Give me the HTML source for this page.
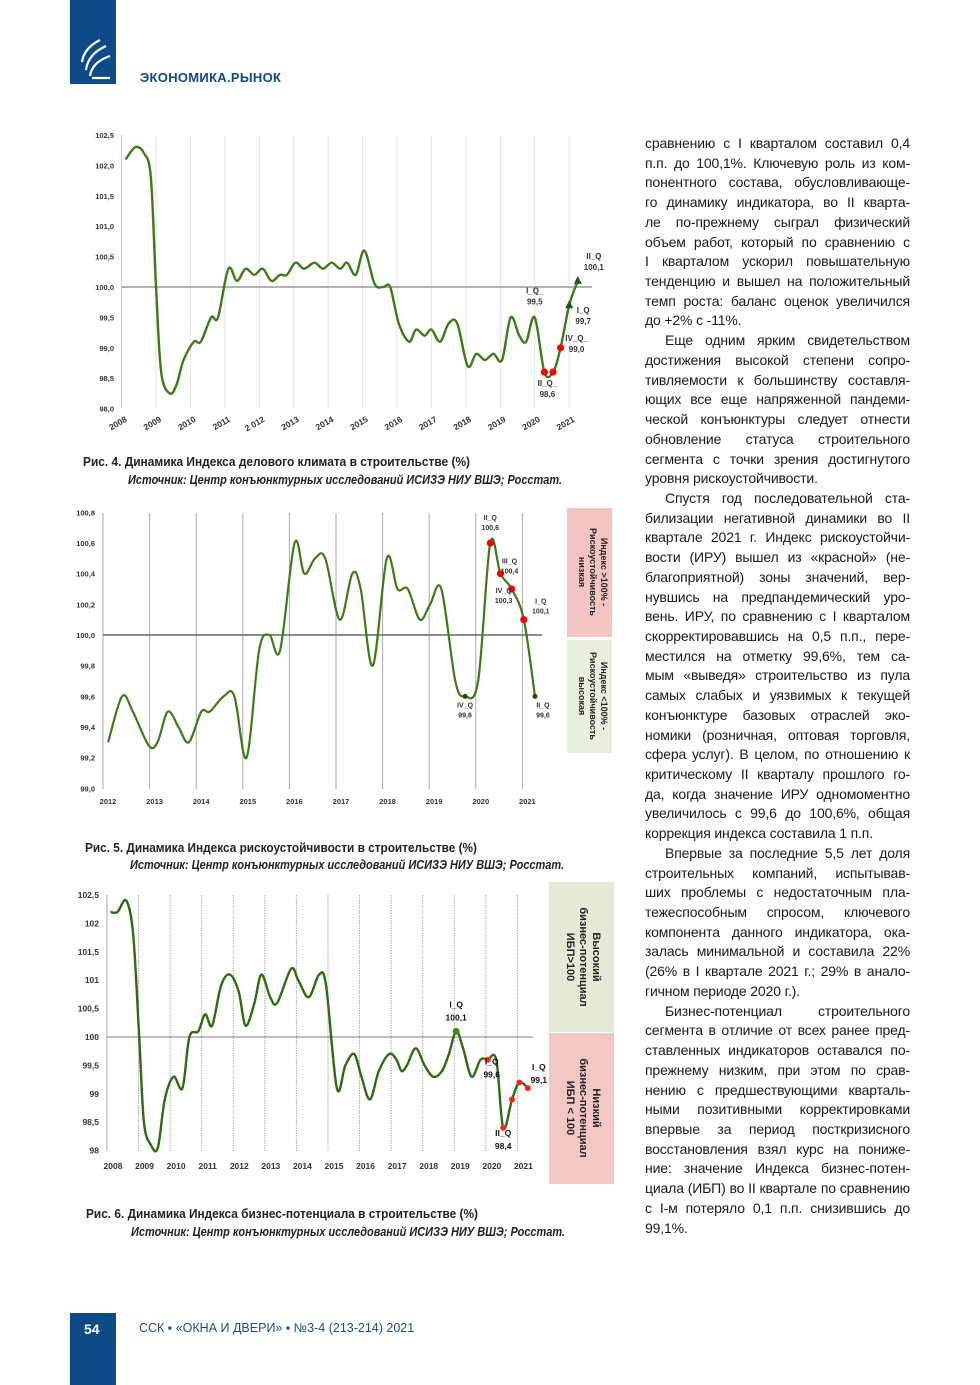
<!DOCTYPE html>
<html><head><meta charset="utf-8">
<style>
html,body{margin:0;padding:0;background:#fff;}
body{width:980px;height:1385px;position:relative;overflow:hidden;font-family:"Liberation Sans",sans-serif;}
#col{position:absolute;left:645px;top:134px;width:265px;font-size:14px;line-height:19.73px;color:#1a1a1a;letter-spacing:-0.15px;}
#col div{text-align:justify;text-align-last:justify;white-space:nowrap;height:19.73px;}
#col div.l{text-align-last:left;}
#col div.i{text-indent:20px;}
svg text{font-family:"Liberation Sans",sans-serif;}
</style></head><body>
<div style="position:absolute;left:70px;top:0;width:46px;height:84px;background:#0d4a86;">
<svg width="46" height="84"><g fill="none" stroke="#fff" stroke-width="2.2"><path d="M12 62 Q14 48 30 40"/><path d="M16 70 Q18 54 36 46"/><path d="M20 76 Q22 62 40 56"/><path d="M22 78 L40 78"/></g></svg>
</div>
<div style="position:absolute;left:140px;top:70px;font-size:13px;font-weight:bold;color:#0d4a86;letter-spacing:0.3px;">ЭКОНОМИКА.РЫНОК</div>

<svg id="charts" width="980" height="1385" style="position:absolute;left:0;top:0"></svg>

<div id="col">
<div>сравнению с I кварталом составил 0,4</div>
<div>п.п. до 100,1%. Ключевую роль из ком-</div>
<div>понентного состава, обусловливающе-</div>
<div>го динамику индикатора, во II кварта-</div>
<div>ле по-прежнему сыграл физический</div>
<div>объем работ, который по сравнению с</div>
<div>I кварталом ускорил повышательную</div>
<div>тенденцию и вышел на положительный</div>
<div>темп роста: баланс оценок увеличился</div>
<div class="l">до +2% с -11%.</div>
<div class="i">Еще одним ярким свидетельством</div>
<div>достижения высокой степени сопро-</div>
<div>тивляемости к большинству составля-</div>
<div>ющих все еще напряженной пандеми-</div>
<div>ческой конъюнктуры следует отнести</div>
<div>обновление статуса строительного</div>
<div>сегмента с точки зрения достигнутого</div>
<div class="l">уровня рискоустойчивости.</div>
<div class="i">Спустя год последовательной ста-</div>
<div>билизации негативной динамики во II</div>
<div>квартале 2021 г. Индекс рискоустойчи-</div>
<div>вости (ИРУ) вышел из «красной» (не-</div>
<div>благоприятной) зоны значений, вер-</div>
<div>нувшись на предпандемический уро-</div>
<div>вень. ИРУ, по сравнению с I кварталом</div>
<div>скорректировавшись на 0,5 п.п., пере-</div>
<div>местился на отметку 99,6%, тем са-</div>
<div>мым «выведя» строительство из пула</div>
<div>самых слабых и уязвимых к текущей</div>
<div>конъюнктуре базовых отраслей эко-</div>
<div>номики (розничная, оптовая торговля,</div>
<div>сфера услуг). В целом, по отношению к</div>
<div>критическому II кварталу прошлого го-</div>
<div>да, когда значение ИРУ одномоментно</div>
<div>увеличилось с 99,6 до 100,6%, общая</div>
<div class="l">коррекция индекса составила 1 п.п.</div>
<div class="i">Впервые за последние 5,5 лет доля</div>
<div>строительных компаний, испытывав-</div>
<div>ших проблемы с недостаточным пла-</div>
<div>тежеспособным спросом, ключевого</div>
<div>компонента данного индикатора, ока-</div>
<div>залась минимальной и составила 22%</div>
<div>(26% в I квартале 2021 г.; 29% в анало-</div>
<div class="l">гичном периоде 2020 г.).</div>
<div class="i">Бизнес-потенциал строительного</div>
<div>сегмента в отличие от всех ранее пред-</div>
<div>ставленных индикаторов оставался по-</div>
<div>прежнему низким, при этом по срав-</div>
<div>нению с предшествующими кварталь-</div>
<div>ными позитивными корректировками</div>
<div>впервые за период посткризисного</div>
<div>восстановления взял курс на пониже-</div>
<div>ние: значение Индекса бизнес-потен-</div>
<div>циала (ИБП) во II квартале по сравнению</div>
<div>с I-м потеряло 0,1 п.п. снизившись до</div>
<div class="l">99,1%.</div>
</div>

<div style="position:absolute;left:70px;top:1313px;width:46px;height:72px;background:#0d4a86;">
<div style="position:absolute;left:14px;top:8px;color:#fff;font-weight:bold;font-size:14px;">54</div></div>
<div style="position:absolute;left:139px;top:1321px;font-size:12.5px;color:#1d4f85;">ССК ▪ «ОКНА И ДВЕРИ» ▪ №3-4 (213-214) 2021</div>

<script>
// ---------- Chart 1 data (Индекс делового климата) ----------
const c1Times=[2008.12,2008.40,2008.65,2008.85,2009.0,2009.15,2009.40,2009.60,2009.80,2010.10,2010.30,2010.60,2010.80,2011.10,2011.35,2011.60,2011.85,2012.10,2012.35,2012.60,2012.80,2013.05,2013.30,2013.60,2013.85,2014.10,2014.35,2014.55,2014.80,2015.05,2015.35,2015.60,2015.80,2016.05,2016.35,2016.55,2016.80,2017.00,2017.25,2017.50,2017.75,2018.05,2018.30,2018.55,2018.80,2019.05,2019.30,2019.55,2019.75,2020.00,2020.28,2020.53,2020.75,2021.00,2021.25];
const c1Values=[102.1,102.3,102.2,101.8,100.0,98.6,98.25,98.4,98.8,99.1,99.1,99.5,99.5,100.3,100.1,100.3,100.2,100.3,100.1,100.2,100.2,100.4,100.3,100.4,100.3,100.4,100.3,100.4,100.2,100.6,100.05,100.0,100.0,99.4,99.1,99.3,99.2,99.3,99.1,99.4,99.4,98.7,98.9,98.8,98.9,98.8,99.5,99.2,99.1,99.5,98.6,98.6,99.0,99.7,100.1];
const c1Yticks=[98.0,98.5,99.0,99.5,100.0,100.5,101.0,101.5,102.0,102.5];
const c1Ylabels=["98,0","98,5","99,0","99,5","100,0","100,5","101,0","101,5","102,0","102,5"];
const c1Years=["2008","2009","2010","2011","2 012","2013","2014","2015","2016","2017","2018","2019","2020","2021"];
const c1Red=[50,51,52];
const c1Tri=[53,54];
const c1Notes=[[49,"I_Q_","99,5"],[54,"II_Q","100,1"],[53,"I_Q","99,7"],[52,"IV_Q_","99,0"],[50,"II_Q_","98,6"]];

// ---------- Chart 2 data (Индекс рискоустойчивости) ----------
const c2Times=[2012.11,2012.41,2012.64,2012.98,2013.17,2013.39,2013.62,2013.84,2014.11,2014.29,2014.59,2014.82,2015.08,2015.35,2015.57,2015.80,2016.11,2016.32,2016.55,2016.77,2017.08,2017.35,2017.53,2017.79,2018.09,2018.32,2018.54,2018.80,2019.02,2019.26,2019.56,2019.77,2020.05,2020.31,2020.53,2020.77,2021.03,2021.27];
const c2Values=[99.3,99.6,99.5,99.28,99.3,99.5,99.4,99.3,99.5,99.5,99.6,99.6,99.2,99.9,100.0,99.9,100.6,100.4,100.5,100.5,100.1,100.4,100.3,99.8,100.5,100.3,100.3,100.1,100.2,100.3,99.7,99.6,99.7,100.6,100.4,100.3,100.1,99.6];
const c2Yticks=[99.0,99.2,99.4,99.6,99.8,100.0,100.2,100.4,100.6,100.8];
const c2Ylabels=["99,0","99,2","99,4","99,6","99,8","100,0","100,2","100,4","100,6","100,8"];
const c2Years=["2012","2013","2014","2015","2016","2017","2018","2019","2020","2021"];
const c2Red=[33,34,35,36];
const c2Dark=[31,37];
const c2Notes=[[33,"II_Q","100,6"],[34,"III_Q","100,4"],[35,"IV_Q","100,3"],[36,"I_Q","100,1"],[31,"IV_Q","99,6"],[37,"II_Q","99,6"]];

// ---------- Chart 3 data (Индекс бизнес-потенциала) ----------
const c3Times=[2008.11,2008.33,2008.61,2008.83,2009.02,2009.17,2009.39,2009.61,2009.83,2010.11,2010.39,2010.61,2010.89,2011.11,2011.33,2011.61,2011.89,2012.17,2012.39,2012.67,2012.89,2013.17,2013.39,2013.83,2014.06,2014.39,2014.72,2014.94,2015.28,2015.55,2015.83,2016.06,2016.33,2016.61,2016.94,2017.17,2017.33,2017.50,2017.78,2018.06,2018.33,2018.61,2018.83,2019.06,2019.28,2019.55,2019.83,2020.06,2020.33,2020.55,2020.83,2021.06,2021.33];
const c3Values=[102.2,102.2,102.4,101.8,100.0,98.5,98.1,98.05,98.9,99.3,99.1,100.0,100.1,100.4,100.2,100.9,101.1,100.8,100.2,100.6,101.1,100.7,100.6,101.2,101.0,100.7,101.1,100.9,99.1,99.5,99.7,99.3,98.9,99.4,99.7,99.6,99.4,99.5,99.8,99.5,99.3,99.4,99.7,100.1,99.8,99.3,99.6,99.6,99.6,98.4,98.9,99.2,99.1];
const c3Yticks=[98,98.5,99,99.5,100,100.5,101,101.5,102,102.5];
const c3Ylabels=["98","98,5","99","99,5","100","100,5","101","101,5","102","102,5"];
const c3Years=["2008","2009","2010","2011","2012","2013","2014","2015","2016","2017","2018","2019","2020","2021"];
const c3Red=[47,49,50,51,52];
const c3Green=[43];
const c3Notes=[[43,"I_Q","100,1"],[47,"I_Q","99,6"],[52,"I_Q","99,1"],[49,"II_Q","98,4"]];

const NS="http://www.w3.org/2000/svg";
const svg=document.getElementById('charts');
function mk(tag,attrs,parent){const e=document.createElementNS(NS,tag);for(const k in attrs)e.setAttribute(k,attrs[k]);(parent||svg).appendChild(e);return e;}
function smooth(pts){let d="M"+pts[0][0]+","+pts[0][1];for(let i=0;i<pts.length-1;i++){const p0=pts[i-1]||pts[i],p1=pts[i],p2=pts[i+1],p3=pts[i+2]||p2;const c1x=p1[0]+(p2[0]-p0[0])/6,c1y=p1[1]+(p2[1]-p0[1])/6,c2x=p2[0]-(p3[0]-p1[0])/6,c2y=p2[1]-(p3[1]-p1[1])/6;d+=" C"+c1x.toFixed(2)+","+c1y.toFixed(2)+" "+c2x.toFixed(2)+","+c2y.toFixed(2)+" "+p2[0].toFixed(2)+","+p2[1].toFixed(2);}return d;}
function txt(x,y,s,o,g){const t=mk('text',Object.assign({x:x,y:y,'font-size':8,'font-weight':'bold',fill:'#333'},o||{}),g);t.textContent=s;return t;}

// ----- Chart 1 -----
(function(){
const g=mk('g',{});


const X=t=>121.6+(t-2008)*34.43, Y=v=>287-(v-100)*60.8;
c1Years.forEach((s,i)=>{const x=X(2008+i);
 const l=mk('line',{x1:x,y1:135,x2:x,y2:408,stroke:'#e4e4e4','stroke-width':1},g);
 
 
 const t=txt(x+6,421,s,{'text-anchor':'end','font-size':8.5,transform:'rotate(-30 '+(x+6)+' 421)'},g);
 
 });
mk('line',{x1:121.6,y1:135,x2:121.6,y2:408,stroke:'#ccc'},g);
c1Yticks.forEach((v,i)=>{const t=txt(114,Y(v)+3,c1Ylabels[i],{'text-anchor':'end','font-size':7.5},g);
 
 });
const base=mk('line',{x1:121.6,y1:Y(100),x2:592,y2:Y(100),stroke:'#999','stroke-width':1.5},g);


const pts=c1Times.map((t,i)=>[X(t),Y(c1Values[i])]);
const p=mk('path',{d:smooth(pts),fill:'none',stroke:'#3d7a1a','stroke-width':2.4},g);


c1Red.forEach(i=>{const c=mk('circle',{cx:pts[i][0],cy:pts[i][1],r:3.6,fill:'#f00'},g);
 
 });
c1Tri.forEach(i=>{const [x,y]=pts[i];const c=mk('polygon',{points:(x-4)+','+(y+3)+' '+(x+4)+','+(y+3)+' '+x+','+(y-5),fill:'#1e5a14'},g);
 
 });
const off={49:[0,-24],54:[16,-22],53:[14,8],52:[16,-7],50:[3,14]};
c1Notes.forEach(n=>{const [x,y]=pts[n[0]];const o=off[n[0]];
 const t=txt(x+o[0],y+o[1],n[1],{'text-anchor':'middle'},g);
 
 
 const t2=txt(x+o[0],y+o[1]+11,n[2],{'text-anchor':'middle'},g);
 
 });
})();

// ----- Chart 2 -----
(function(){
const g=mk('g',{});


const X=t=>103+(t-2012)*46.6, Y=v=>635-(v-100)*153.3;
const b1=mk('rect',{x:567,y:508,width:45,height:129,fill:'#f4c4c4'},g);


const b2=mk('rect',{x:567,y:640,width:45,height:113,fill:'#e7efdf'},g);


[["Индекс >100% -","Рискоустойчивость","низкая",572],["Индекс <100% -","Рискоустойчивость","высокая",696]].forEach(z=>{
 [z[0],z[1],z[2]].forEach((s,k)=>{const x=601-k*11;const t=txt(x,z[3],s,{'text-anchor':'middle','font-size':9,fill:'#222',transform:'rotate(90 '+x+' '+z[3]+')'},g);
 
 });});
c2Years.forEach((s,i)=>{const x=X(2012+i);
 const l=mk('line',{x1:x,y1:513,x2:x,y2:789,stroke:'#aaa','stroke-width':1},g);
 
 
 const t=txt(x+5,804,s,{'text-anchor':'middle','font-size':7.5},g);
 
 });
c2Yticks.forEach((v,i)=>{const t=txt(95,Y(v)+3,c2Ylabels[i],{'text-anchor':'end','font-size':7.5},g);
 
 });
const base=mk('line',{x1:103,y1:Y(100),x2:542,y2:Y(100),stroke:'#666','stroke-width':1.5},g);


const pts=c2Times.map((t,i)=>[X(t),Y(c2Values[i])]);
const p=mk('path',{d:smooth(pts),fill:'none',stroke:'#3d7a1a','stroke-width':2.2},g);


c2Red.forEach(i=>{const c=mk('circle',{cx:pts[i][0],cy:pts[i][1],r:3.6,fill:'#f00'},g);
 
 });
c2Dark.forEach(i=>{const c=mk('circle',{cx:pts[i][0],cy:pts[i][1],r:2.5,fill:'#1e4a10'},g);
 
 });
const off={33:[0,-23],34:[9,-10],35:[-8,4],36:[17,-16],31:[0,11],37:[8,11]};
c2Notes.forEach(n=>{const [x,y]=pts[n[0]];const o=off[n[0]];
 const t=txt(x+o[0],y+o[1],n[1],{'text-anchor':'middle','font-size':7},g);
 
 
 const t2=txt(x+o[0],y+o[1]+10,n[2],{'text-anchor':'middle','font-size':7},g);
 
 });
})();

// ----- Chart 3 -----
(function(){
const g=mk('g',{});


const X=t=>107+(t-2008)*31.57, Y=v=>1037-(v-100)*56.8;
const b1=mk('rect',{x:549,y:882,width:65,height:150,fill:'#e3ebd8'},g);


const b2=mk('rect',{x:549,y:1033,width:65,height:151,fill:'#f4c7c7'},g);


[["Высокий","бизнес-потенциал","ИБП>100",957],["Низкий","бизнес-потенциал","ИБП < 100",1108]].forEach(z=>{
 [z[0],z[1],z[2]].forEach((s,k)=>{const x=593-k*13;const t=txt(x,z[3],s,{'text-anchor':'middle','font-size':11,fill:'#222',transform:'rotate(90 '+x+' '+z[3]+')'},g);
 
 });});
c3Years.forEach((s,i)=>{const x=X(2008+i);
 if(i>0){const l=mk('line',{x1:x,y1:895,x2:x,y2:1151,stroke:'#aaa','stroke-width':1,'stroke-dasharray':'1.5,1'},g);
 
 }
 const t=txt(x+6,1169,s,{'text-anchor':'middle','font-size':8.5,fill:'#333'},g);
 
 });
mk('line',{x1:107,y1:895,x2:107,y2:1151,stroke:'#aaa'},g);
c3Yticks.forEach((v,i)=>{const t=txt(99,Y(v)+3,c3Ylabels[i],{'text-anchor':'end','font-size':8.5,fill:'#333'},g);
 
 });
const base=mk('line',{x1:107,y1:Y(100),x2:533,y2:Y(100),stroke:'#999','stroke-width':1.2},g);


const pts=c3Times.map((t,i)=>[X(t),Y(c3Values[i])]);
const p=mk('path',{d:smooth(pts),fill:'none',stroke:'#2f6a14','stroke-width':2.4},g);


c3Red.forEach(i=>{const c=mk('circle',{cx:pts[i][0],cy:pts[i][1],r:3,fill:'#f22'},g);
 
 });
c3Green.forEach(i=>{const c=mk('circle',{cx:pts[i][0],cy:pts[i][1],r:3.5,fill:'#3d8a1a'},g);
 
 });
const off={43:[0,-24],47:[4,5],52:[11,-18],49:[0,8]};
c3Notes.forEach(n=>{const [x,y]=pts[n[0]];const o=off[n[0]];
 const t=txt(x+o[0],y+o[1],n[1],{'text-anchor':'middle','font-size':8.5,fill:'#111'},g);
 
 
 const t2=txt(x+o[0],y+o[1]+13,n[2],{'text-anchor':'middle','font-size':8.5,fill:'#111'},g);
 
 });
})();

// ----- Captions -----
const caps=[[83,466,387,"Рис. 4. Динамика Индекса делового климата в строительстве (%)",128,484,434],[85,852,392,"Рис. 5. Динамика Индекса рискоустойчивости в строительстве (%)",130,869,434],[86,1218,392,"Рис. 6. Динамика Индекса бизнес-потенциала в строительстве (%)",131,1236,434]];
const src="Источник: Центр конъюнктурных исследований ИСИЗЭ НИУ ВШЭ; Росстат.";
caps.forEach(c=>{
 const t=mk('text',{x:c[0],y:c[1],'font-size':12.5,'font-weight':'bold',fill:'#222',textLength:c[2],lengthAdjust:'spacingAndGlyphs'});
 t.textContent=c[3];
 
 
 const s=mk('text',{x:c[4],y:c[5],'font-size':12.5,'font-weight':'bold','font-style':'italic',fill:'#222',textLength:c[6],lengthAdjust:'spacingAndGlyphs'});
 s.textContent=src;
 
 
});
</script>
</body></html>
